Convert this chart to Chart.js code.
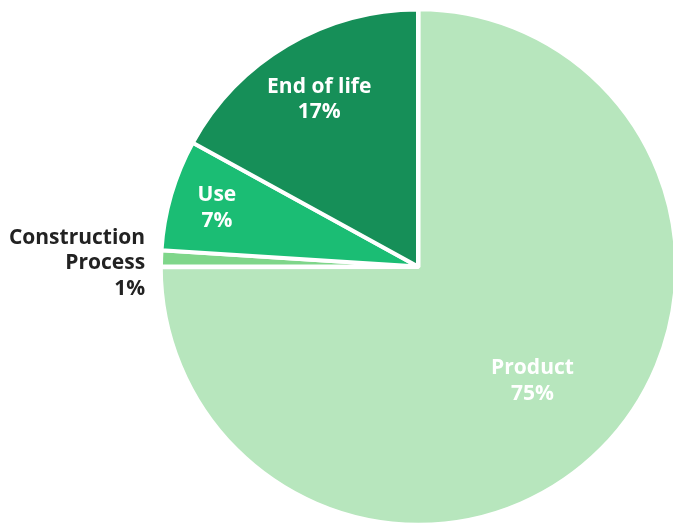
<!DOCTYPE html>
<html>
<head>
<meta charset="utf-8">
<script src="https://cdn.jsdelivr.net/npm/chart.js@4.4.1/dist/chart.umd.min.js"></script>
<style>
  html, body { margin: 0; padding: 0; background: #ffffff; }
  #wrap { width: 673px; height: 523px; position: relative; }
</style>
</head>
<body>
<div id="wrap"><canvas id="chart" width="673" height="523"></canvas></div>
<script>
// Life-cycle stages and their share of the total (%)
const stages = ['Product', 'Construction Process', 'Use', 'End of life'];
const shares = [75, 1, 7, 17];
const stageLabels = [['Product'], ['Construction', 'Process'], ['Use'], ['End of life']];
const sliceColors = ['#b7e6bd', '#7fd68a', '#1bbd74', '#168f58'];

// How far out along each slice's middle angle its label sits (fraction of radius);
// a value above 1 puts the label outside the pie.
const labelRadius = [0.63, 1.06, 0.815, 0.755];
const labelColor = ['#ffffff', '#222222', '#ffffff', '#ffffff'];

const sliceLabels = {
  id: 'sliceLabels',
  afterDatasetsDraw(chart) {
    const ctx = chart.ctx;
    const meta = chart.getDatasetMeta(0);
    ctx.save();
    ctx.font = 'bold 21px "Open Sans", sans-serif';
    ctx.textBaseline = 'middle';
    const lineH = 25.5;
    meta.data.forEach((arc, i) => {
      const p = arc.getProps(['x', 'y', 'startAngle', 'endAngle', 'outerRadius'], true);
      const mid = (p.startAngle + p.endAngle) / 2;
      const outside = labelRadius[i] > 1;
      const r = outside ? p.outerRadius + 16 : p.outerRadius * labelRadius[i];
      const x = p.x + Math.cos(mid) * r;
      const y = p.y + Math.sin(mid) * r;
      const lines = stageLabels[i].concat([shares[i] + '%']);
      ctx.fillStyle = labelColor[i];
      ctx.textAlign = outside ? 'right' : 'center';
      const top = y - (lines.length - 1) * lineH / 2 + (outside ? 5.5 : 0);
      lines.forEach((t, k) => ctx.fillText(t, x, top + k * lineH));
    });
    ctx.restore();
  }
};

new Chart(document.getElementById('chart'), {
  type: 'pie',
  data: {
    labels: stages,
    datasets: [{
      data: shares,
      backgroundColor: sliceColors,
      borderColor: '#ffffff',
      borderWidth: 4,
      offset: [3, 0, 0, 0]
    }]
  },
  options: {
    responsive: false,
    animation: false,
    radius: 257,
    layout: { padding: { left: 163, right: 0, top: 10, bottom: 0 } },
    plugins: {
      legend: { display: false },
      tooltip: { enabled: false }
    }
  },
  plugins: [sliceLabels]
});
</script>
</body>
</html>
